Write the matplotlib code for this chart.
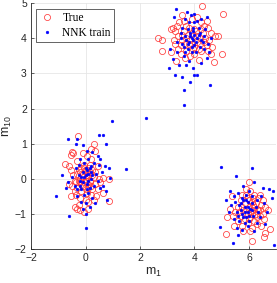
import matplotlib
matplotlib.use("Agg")
import matplotlib.pyplot as plt
import numpy as np

plt.rcParams['mathtext.fontset'] = 'custom'
plt.rcParams['mathtext.rm'] = 'Liberation Sans'
plt.rcParams['mathtext.it'] = 'Liberation Sans'

# ---- data ----
true_a = [(-0.26,1.22),(0.3,0.99),(0.2,0.85),(-0.1,0.72),(0.35,0.8),(-0.45,0.72),(-0.55,0.68),(-0.5,0.75),
          (-0.75,0.42),(-0.6,0.35),(-0.55,0.25),(0.1,0.3),(0.0,0.25),(-0.15,0.3),(-0.2,0.2),(0.15,0.2),
          (0.25,0.25),(-0.3,0.15),(0.05,0.1),(-0.1,0.05),(0.3,0.05),(0.5,0.0),(0.65,0.02),(0.85,0.0),
          (-0.4,-0.05),(-0.2,-0.1),(0.0,-0.05),(0.15,-0.1),(0.35,-0.15),(-0.6,-0.15),(-0.5,-0.2),(-0.3,-0.25),
          (0.1,-0.25),(0.25,-0.3),(0.45,-0.3),(-0.15,-0.35),(0.05,-0.4),(-0.35,-0.45),(-0.55,-0.5),(0.2,-0.45),
          (0.4,-0.5),(-0.2,-0.55),(0.0,-0.6),(0.1,-0.65),(0.85,-0.63),(-0.25,-0.75),(-0.3,-0.85),(-0.2,-0.9),
          (-0.05,-0.95),(0.1,-0.85),(-0.4,-0.8),(0.15,-0.05),(-0.05,0.4),(0.2,0.55),(-0.3,0.5),(0.45,0.35),
          (0.55,-0.1),(-0.1,-0.2),(0.3,-0.6),(-0.45,0.1),(0.05,0.65),(0.65,-0.4),(0.0,0.0),(-0.25,-0.05),
          (-0.1,0.15),(0.1,0.05),(-0.05,-0.1),(0.2,-0.2),(-0.2,0.0),(0.05,0.2),(-0.15,-0.15),(0.25,0.1),
          (-0.35,-0.1),(0.1,-0.15),(-0.05,0.3),(0.0,-0.3),(0.35,0.2),(-0.25,0.25),(0.15,0.4),(-0.4,-0.35)]
true_b = [(4.29,4.91),(5.06,4.69),(3.55,4.65),(3.9,4.55),(4.1,4.6),(4.25,4.45),(3.2,4.3),(3.35,4.35),
          (3.7,4.35),(4.35,4.35),(4.5,4.3),(3.15,4.25),(3.3,4.2),(3.6,4.2),(4.0,4.25),(4.6,4.15),(2.67,4.0),
          (2.8,3.95),(3.4,4.05),(3.7,4.0),(3.55,3.95),(4.1,4.05),(4.4,4.0),(4.55,3.95),(4.75,4.05),(4.85,4.05),
          (3.3,3.85),(3.5,3.8),(3.8,3.85),(4.2,3.85),(4.45,3.8),(4.65,3.75),(3.4,3.7),(3.7,3.65),(3.95,3.7),
          (4.25,3.65),(4.5,3.65),(2.82,3.64),(3.15,3.6),(3.5,3.55),(4.0,3.55),(5.02,3.55),(3.65,3.45),
          (3.85,3.5),(4.18,3.38),(3.33,3.35),(4.73,3.32),(3.9,4.15),(4.3,4.15),(3.6,4.5),(4.1,3.9),
          (3.45,4.45),(4.6,3.55),(3.75,4.1),(4.45,4.5),(3.25,3.95),
          (3.95,4.05),(4.2,4.0),(3.85,3.95),(4.05,4.2),(3.65,3.85),(4.35,3.9),(4.0,3.75),(3.8,4.3),
          (4.15,3.7),(3.55,4.1),(4.25,4.25),(3.9,3.85)]
true_c = [(6.0,-0.09),(5.38,-0.49),(5.9,-0.3),(6.05,-0.35),(5.75,-0.45),(6.2,-0.45),(5.95,-0.55),(6.35,-0.55),
          (6.5,-0.6),(5.7,-0.6),(6.1,-0.65),(5.85,-0.7),(6.25,-0.7),(6.45,-0.75),(5.6,-0.8),(6.0,-0.8),
          (6.6,-0.8),(5.3,-0.85),(5.8,-0.9),(6.15,-0.9),(6.35,-0.9),(6.7,-0.9),(5.5,-0.95),(5.95,-1.0),
          (6.25,-1.0),(5.7,-1.05),(6.05,-1.1),(6.4,-1.05),(5.2,-1.1),(5.4,-1.05),(5.85,-1.15),(6.2,-1.2),
          (6.55,-1.15),(5.6,-1.2),(5.95,-1.25),(6.3,-1.3),(5.75,-1.35),(6.1,-1.4),(6.45,-1.35),(5.16,-1.58),
          (6.12,-1.77),(6.56,-1.65),(6.78,-1.43),(6.6,-1.55),(6.0,-0.6),(6.3,-0.85),(5.9,-0.45),(6.15,-0.55),
          (5.65,-0.95),(6.5,-1.0),(5.45,-1.35),(6.05,-1.5),(5.8,-1.5),(6.4,-0.45),
          (6.05,-0.95),(5.9,-0.85),(6.2,-0.8),(6.1,-1.0),(5.85,-1.0),(6.3,-1.1),(6.0,-1.15),(6.15,-0.75),
          (5.75,-0.8),(6.4,-0.9)]

nnk_a = [(0.99,1.64),(0.48,1.24),(0.66,1.24),(-0.66,1.13),(-0.33,1.13),(0.75,0.98),(-0.35,1.0),(-0.1,0.95),
         (0.05,0.8),(0.25,0.75),(0.45,0.65),(0.55,0.55),(-0.2,0.55),(-0.85,0.1),(1.5,0.28),(0.85,0.3),
         (0.7,0.35),(0.6,0.2),(0.4,0.15),(0.2,0.35),(0.0,0.3),(-0.1,0.2),(-0.25,0.1),(0.1,0.15),(-0.35,0.3),
         (0.3,0.45),(-0.05,0.05),(0.2,0.0),(-0.2,-0.05),(0.05,-0.15),(-0.4,-0.2),(0.3,-0.2),(0.55,-0.25),
         (0.75,-0.35),(0.9,0.02),(-0.65,-0.1),(-0.7,-0.25),(-1.1,-0.5),(-0.15,-0.3),(0.1,-0.4),(-0.3,-0.5),
         (0.25,-0.55),(0.0,-0.7),(-0.15,-0.65),(0.35,-0.7),(0.15,-0.8),(-0.6,-1.05),(0.0,-1.0),(0.0,-1.4),
         (0.8,-0.6),(0.65,-0.2),(-0.5,0.05),(0.45,-0.05),(-0.05,-0.45),(0.1,0.55),(-0.25,0.4),(0.5,0.4),
         (0.15,-0.25),(-0.3,-0.3),(0.05,0.25),(-0.1,-0.85),
         (0.0,0.1),(0.1,-0.05),(-0.1,-0.1),(0.2,0.2),(-0.15,0.05),(0.05,-0.3),(0.25,0.1),(-0.05,0.45),
         (0.15,0.3),(-0.2,-0.2)]
nnk_b = [(2.23,1.73),(3.63,2.1),(3.63,2.52),(4.58,2.67),(3.05,3.15),(3.3,2.95),(3.55,2.9),(4.0,2.95),
         (3.85,2.75),(4.1,2.95),(3.95,3.15),(3.45,3.25),(3.2,3.4),(3.7,3.25),(3.8,3.35),(4.25,3.3),(4.45,3.45),
         (3.6,3.5),(3.9,3.6),(3.35,3.6),(3.1,3.7),(4.55,3.6),(4.35,3.7),(3.75,3.7),(4.0,3.8),(3.55,3.85),
         (4.2,3.75),(3.8,3.9),(3.95,3.95),(4.1,4.0),(3.65,4.05),(4.3,3.9),(4.5,3.85),(3.5,4.0),(3.85,4.15),
         (4.0,4.1),(4.2,4.15),(4.15,4.3),(3.95,4.3),(3.75,4.25),(4.4,4.25),(3.55,4.3),(3.65,4.55),(4.0,4.45),
         (3.8,4.45),(4.1,4.5),(3.5,4.15),(3.26,4.6),(3.33,4.83),(3.74,4.74),(3.88,4.66),(4.47,4.6),(4.0,4.7),
         (4.25,4.55),(3.9,4.0),(3.35,3.9),(4.35,4.05),(3.7,3.95),(4.05,3.6),(3.6,3.75),(4.6,4.0),
         (3.9,3.75),(4.05,3.9),(3.75,3.85),(4.15,4.1),(3.85,4.05),(4.25,3.95),(3.95,4.2),(3.65,3.6)]
nnk_c = [(4.98,0.33),(6.12,0.3),(5.53,0.08),(6.93,-1.89),(5.4,-1.83),(4.95,-1.37),(5.8,-0.2),(6.2,-0.1),
         (6.5,-0.25),(6.75,-0.3),(6.9,-0.35),(5.3,-0.35),(5.6,-0.4),(5.9,-0.45),(6.1,-0.5),(5.75,-0.55),
         (6.3,-0.6),(5.5,-0.65),(5.95,-0.65),(6.45,-0.5),(5.35,-0.75),(5.65,-0.75),(5.85,-0.8),(6.05,-0.85),
         (6.25,-0.8),(6.55,-0.7),(5.25,-0.95),(5.55,-0.95),(5.75,-1.0),(5.95,-0.95),(6.15,-1.05),(6.4,-1.1),
         (6.65,-0.95),(5.45,-1.15),(5.65,-1.2),(5.85,-1.25),(6.0,-1.2),(6.3,-1.25),(5.55,-1.4),(5.75,-1.45),
         (5.95,-1.35),(6.2,-1.5),(6.6,-1.3),(5.7,-0.9),(5.9,-1.1),(6.1,-0.7),(5.8,-0.6),(6.0,-0.35),
         (5.45,-0.5),(6.85,-0.55),(5.6,-1.6),(6.35,-0.95),(5.15,-0.6),
         (5.85,-0.95),(6.0,-1.05),(5.7,-0.7),(5.95,-0.8),(5.8,-1.1),(6.1,-0.9),(5.6,-1.05),(5.9,-0.6)]

x_ticks = [-2, 0, 2, 4, 6]
y_ticks = [-2, -1, 0, 1, 2, 3, 4, 5]

true_pts = np.array(true_a + true_b + true_c)
nnk_pts = np.array(nnk_a + nnk_b + nnk_c)

fig = plt.figure(figsize=(2.77, 2.83), dpi=100)
ax = fig.add_axes([0.112, 0.12, 0.885, 0.869])

ax.plot(true_pts[:, 0], true_pts[:, 1], 'o', mfc='none', mec='#ff3b3b', ms=4.4, mew=0.55,
        label='True', zorder=3)
ax.plot(nnk_pts[:, 0], nnk_pts[:, 1], 'o', mfc='#0000ff', mec='#0000ff', ms=2.0, mew=0.3,
        label='NNK train', zorder=4)

ax.set_xlim(-2, 7)
ax.set_ylim(-2, 5)
ax.set_xticks(x_ticks)
ax.set_yticks(y_ticks)
ax.grid(True, color='#e6e6e6', linewidth=0.6)
ax.set_axisbelow(True)
for s in ['top', 'right']:
    ax.spines[s].set_visible(False)
for s in ['left', 'bottom']:
    ax.spines[s].set_color('#262626')
    ax.spines[s].set_linewidth(0.6)
ax.tick_params(direction='in', length=2.5, width=0.5, colors='#262626', labelsize=7.5,
               labelfontfamily='Liberation Sans', pad=3)

ax.set_xlabel('m$_1$', fontsize=9, family='Liberation Sans', color='#262626', labelpad=2)
ax.set_ylabel('m$_{10}$', fontsize=9, family='Liberation Sans', color='#262626', labelpad=1)

leg = ax.legend(loc='upper left', bbox_to_anchor=(0.02, 0.976), borderaxespad=0,
                prop={'family': 'Liberation Serif', 'size': 8.3}, fancybox=False,
                edgecolor='#262626', framealpha=1, handlelength=1.4, handletextpad=0.6,
                borderpad=0.3, labelspacing=0.2)
leg.get_frame().set_linewidth(0.5)

fig.savefig('out.png', dpi=100)
